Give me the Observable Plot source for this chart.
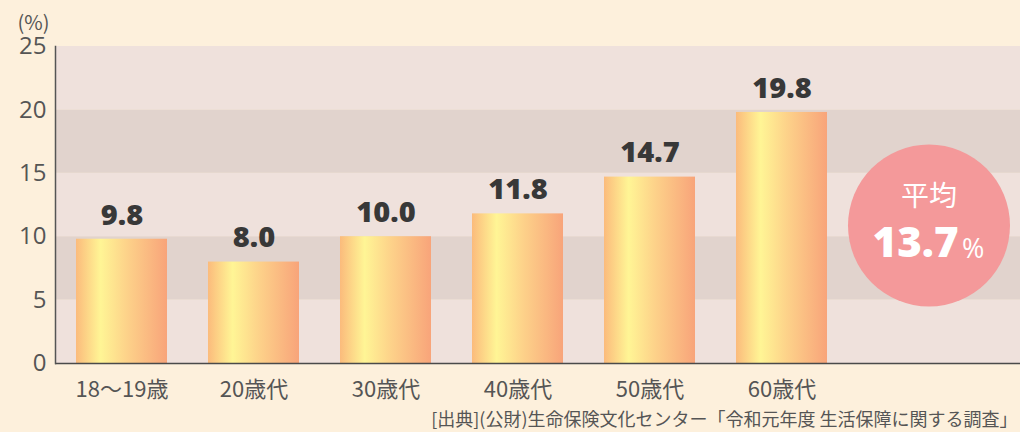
<!DOCTYPE html>
<html><head><meta charset="utf-8">
<script src="https://cdn.jsdelivr.net/npm/d3@7"></script>
<script src="https://cdn.jsdelivr.net/npm/@observablehq/plot@0.6"></script>
<style>
html,body{margin:0;padding:0;background:#fdf0dc;}
#chart svg{display:block;}
</style></head><body><div id="chart"></div>
<script>
const categories = ["18～19歳","20歳代","30歳代","40歳代","50歳代","60歳代"];
const values = [9.8, 8.0, 10.0, 11.8, 14.7, 19.8];
const yTicks = [0, 5, 10, 15, 20, 25];
const unitLabel = "(%)";
const averageLabel = "平均";
const averageValue = "13.7";
const averageUnit = "%";
const sourceText = "[出典](公財)生命保険文化センター「令和元年度 生活保障に関する調査」";
const avgKey = "__avg__";

const data = categories.map((c, i) => ({category: c, value: values[i]}));
const bands = yTicks.slice(0, -1).map((t, i) => ({y1: t, y2: yTicks[i + 1], shade: i % 2}));

const jp = "'Noto Sans CJK JP', 'Noto Sans', sans-serif";
const num = "'Open Sans', 'Noto Sans', sans-serif";

const chart = Plot.plot({
  width: 1020, height: 432,
  marginLeft: 55, marginRight: 0, marginTop: 46, marginBottom: 69,
  style: {background: "transparent", fontFamily: jp, overflow: "visible"},
  x: {domain: [...categories, avgKey], range: [35, 1000], padding: 0.3106, axis: null, label: null},
  y: {domain: [0, 25], axis: null, label: null},
  marks: [
    Plot.rect(bands, {y1: "y1", y2: "y2", fill: d => d.shade ? "#e1d3cd" : "#efe1dc"}),
    Plot.barY(data, {x: "category", y: "value", fill: "url(#barGrad)"}),
    Plot.ruleY([0], {stroke: "#4a4a4a", strokeWidth: 1.5}),
    Plot.frame({anchor: "left", stroke: "#555", strokeWidth: 1.5}),
    // y tick labels
    Plot.text(yTicks, {y: d => d, text: d => String(d), frameAnchor: "left", dx: -9,
      textAnchor: "end", fontSize: 24, fill: "#555", fontFamily: num}),
    // x tick labels
    Plot.text(categories, {x: d => d, text: d => d, frameAnchor: "bottom", dy: 33,
      fontSize: 22, fill: "#555"}),
    Plot.text(data, {x: "category", y: "value", text: d => d.value.toFixed(1), dy: -24,
      fontSize: 29, fontWeight: 800, fill: "#383838", fontFamily: num}),
    Plot.text([unitLabel], {frameAnchor: "top-left", text: d => d, dx: -22, dy: -31,
      fontSize: 20, fill: "#555", textAnchor: "middle"}),
    Plot.dot([averageValue], {x: () => avgKey, r: 81, dx: 15, dy: 20.5, fill: "#f4999a", stroke: "none"}),
    Plot.text([averageLabel], {x: () => avgKey, text: d => d, dx: 15, dy: -8,
      fontSize: 28, fill: "#fff"}),
    Plot.text([averageValue], {x: () => avgKey, text: d => d, dx: 44.5, dy: 39,
      fontSize: 42, fontWeight: 800, fill: "#fff", textAnchor: "end", fontFamily: num}),
    Plot.text([averageUnit], {x: () => avgKey, text: d => d, dx: 48, dy: 44,
      fontSize: 27, fill: "#fff", textAnchor: "start", fontFamily: num}),
    Plot.text([sourceText], {frameAnchor: "bottom-right", text: d => d, dx: -3, dy: 62,
      fontSize: 18, fill: "#555", textAnchor: "end"})
  ]
});

const defs = d3.select(chart).insert("defs", ":first-child");
const g = defs.append("linearGradient").attr("id", "barGrad")
  .attr("x1", 0).attr("x2", 1).attr("y1", 0).attr("y2", 0);
[[0, "#fbbb7c"], [0.27, "#fff595"], [0.55, "#fdd38a"], [1, "#f8a47a"]]
  .forEach(([o, c]) => g.append("stop").attr("offset", o).attr("stop-color", c));

document.getElementById("chart").append(chart);
</script></body></html>
